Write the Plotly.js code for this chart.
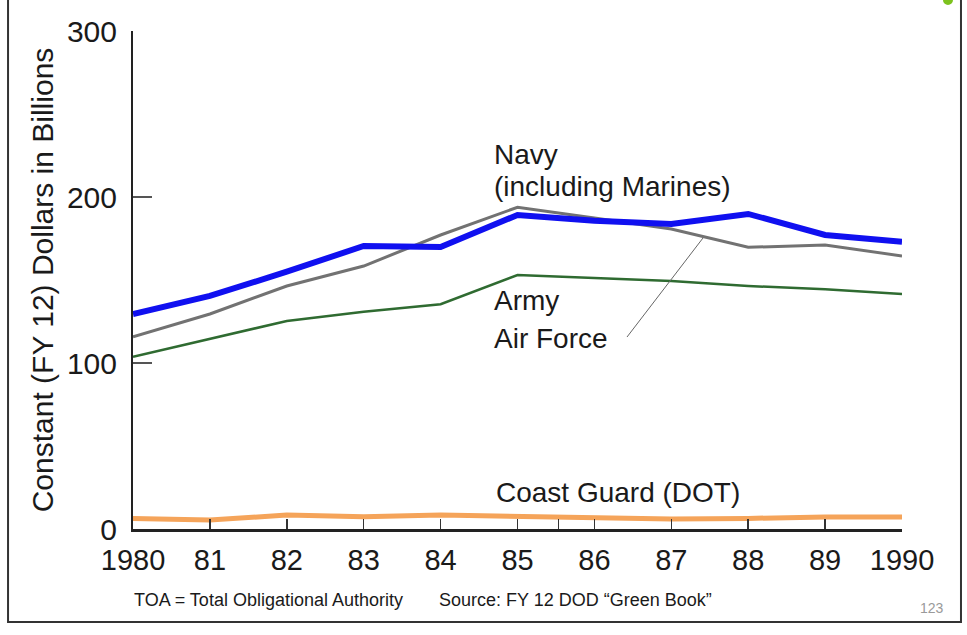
<!DOCTYPE html>
<html>
<head>
<meta charset="utf-8">
<script src="https://cdn.plot.ly/plotly-3.0.1.min.js"></script>
<style>
  html, body { margin: 0; padding: 0; background: #ffffff; }
  #chart { width: 967px; height: 635px; }
</style>
</head>
<body>
<div id="chart"></div>
<script>
// ---- data (constant FY12 $ billions) ----
const years = [1980, 1981, 1982, 1983, 1984, 1985, 1986, 1987, 1988, 1989, 1990];
const navy = [129.5, 140.4, 155.0, 170.5, 169.9, 189.2, 185.7, 183.7, 189.8, 177.1, 173.1];
const airForce = [115.8, 129.5, 146.4, 158.4, 177.1, 193.8, 187.3, 180.7, 169.7, 171.1, 164.5];
const army = [103.8, 114.5, 125.3, 130.9, 135.4, 153.0, 151.4, 149.4, 146.4, 144.4, 141.6];
const coastGuard = [6.4, 5.4, 8.4, 7.4, 8.4, 7.4, 6.8, 6.0, 6.4, 7.2, 7.2];

const xTickVals = [1980, 1981, 1982, 1983, 1984, 1985, 1985.53, 1986, 1987, 1988, 1989, 1990];
const xTickText = ['1980', '81', '82', '83', '84', '85', '', '86', '87', '88', '89', '1990'];
const yTickVals = [0, 100, 200, 300];
const yTickText = ['0', '100', '200', '300'];

const seriesNames = ['Coast Guard (DOT)', 'Army', 'Air Force', 'Navy (including Marines)'];

const FONT = 'Liberation Sans, Arial, Helvetica, sans-serif';

const traces = [
  { x: years, y: coastGuard, name: seriesNames[0], mode: 'lines',
    line: { color: '#f5a45a', width: 5 } },
  { x: years, y: army, name: seriesNames[1], mode: 'lines',
    line: { color: '#2f6b31', width: 2.5 } },
  { x: years, y: airForce, name: seriesNames[2], mode: 'lines',
    line: { color: '#727272', width: 3 } },
  { x: years, y: navy, name: seriesNames[3], mode: 'lines',
    line: { color: '#1010f0', width: 6 } }
];

function lbl(text, x, y, size, color, extra) {
  return Object.assign({
    text: text, xref: 'paper', yref: 'paper', x: x, y: y,
    xanchor: 'left', yanchor: 'middle', showarrow: false, borderpad: 0,
    font: { family: FONT, size: size, color: color || '#1a1a1a' }
  }, extra || {});
}

const layout = {
  width: 967, height: 635,
  margin: { l: 133, r: 65, t: 31, b: 106 },
  paper_bgcolor: '#ffffff', plot_bgcolor: '#ffffff',
  showlegend: false,
  hovermode: false,
  font: { family: FONT, color: '#1a1a1a' },
  xaxis: {
    range: [1980, 1990], tickmode: 'array', tickvals: xTickVals, ticktext: xTickText,
    ticks: 'inside', ticklen: 10, tickwidth: 1.5, tickcolor: '#333333',
    showline: true, linecolor: '#222222', linewidth: 2.5,
    showgrid: false, zeroline: false, fixedrange: true,
    tickfont: { family: FONT, size: 29, color: '#1a1a1a' },
    ticklabelstandoff: 4
  },
  yaxis: {
    range: [0, 300], tickmode: 'array', tickvals: yTickVals, ticktext: yTickText,
    ticks: 'inside', ticklen: 19, tickwidth: 1.5, tickcolor: '#555555',
    showline: true, linecolor: '#222222', linewidth: 2,
    showgrid: false, zeroline: false, fixedrange: true,
    tickfont: { family: FONT, size: 30, color: '#1a1a1a' },
    ticklabelstandoff: 8,
    title: { text: 'Constant (FY 12) Dollars in Billions', standoff: 4,
             font: { family: FONT, size: 30, color: '#1a1a1a' } }
  },
  annotations: [
    lbl('Navy', 0.4681, 0.752, 28),
    lbl('(including Marines)', 0.4681, 0.6868, 28),
    lbl('Army', 0.4681, 0.4598, 28),
    lbl('Air Force', 0.4681, 0.3835, 28),
    lbl('Coast Guard (DOT)', 0.4707, 0.0723, 28),
    lbl('TOA = Total Obligational Authority', 0.0, -0.1426, 18, '#1a1a1a'),
    lbl('Source: FY 12 DOD \u201cGreen Book\u201d', 0.3966, -0.1426, 18, '#1a1a1a'),
    lbl('123', 1.039, -0.1586, 14, '#9a9a9a', { xanchor: 'center' })
  ],
  shapes: [
    // slide frame
    { type: 'rect', xref: 'paper', yref: 'paper',
      x0: -0.1625, x1: 1.0767, y0: -0.1867, y1: 1.08,
      line: { color: '#333333', width: 2 }, fillcolor: 'rgba(0,0,0,0)', layer: 'below' },
    // pointer from "Air Force" label to its line
    { type: 'line', xref: 'paper', yref: 'paper',
      x0: 0.6424, y0: 0.3855, x1: 0.7412, y1: 0.5843,
      line: { color: '#666666', width: 1 } },
    // small green mark at top-right corner
    { type: 'circle', xref: 'paper', yref: 'paper',
      x0: 1.0533, x1: 1.0663, y0: 1.0522, y1: 1.0723,
      line: { color: '#7dc21e', width: 0 }, fillcolor: '#7dc21e' }
  ]
};

Plotly.newPlot('chart', traces, layout, { displayModeBar: false, staticPlot: true });
</script>
</body>
</html>
